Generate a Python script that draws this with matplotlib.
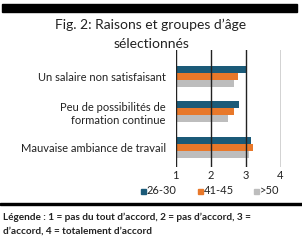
import matplotlib.pyplot as plt
from matplotlib.patches import Rectangle
import numpy as np

plt.rcParams['font.family'] = ['Lato', 'DejaVu Sans']

categories = ['Un salaire non satisfaisant',
              'Peu de possibilités de\nformation continue',
              'Mauvaise ambiance de travail']
groups = ['26-30', '41-45', '>50']
v_26_30 = [3.04, 2.80, 3.17]
v_41_45 = [2.78, 2.67, 3.20]
v_50 = [2.67, 2.50, 3.09]
ticks = [1, 2, 3, 4]

colors = ['#1b5a78', '#e8782a', '#bdbdbd']
txt = '#222222'

W, H = 302, 241
fig = plt.figure(figsize=(W / 100, H / 100), dpi=100)

# plot area in pixel coords
left, right, top, bottom = 175.5, 280.5, 50, 167
ax = fig.add_axes([left / W, 1 - bottom / H, (right - left) / W, (bottom - top) / H])

y = np.arange(len(categories))
h = 0.197
for i, (vals, c) in enumerate(zip([v_26_30, v_41_45, v_50], colors)):
    ax.barh(y + (i - 1) * h, np.array(vals) - 1, left=1, height=h, color=c,
            label=groups[i], zorder=2)

ax.set_xlim(1, 4)
ax.set_ylim(2.55, -0.746)
for t in ticks:
    ax.axvline(t, color=txt, lw=1, zorder=3)
for s in ax.spines.values():
    s.set_visible(False)

ax.set_xticks(ticks)
ax.set_xticklabels([str(t) for t in ticks], fontsize=8, color=txt)
ax.set_yticks(y)
ax.set_yticklabels(categories, fontsize=8, color=txt, multialignment='right')
ax.tick_params(length=0)
ax.tick_params(axis='x', pad=2)
ax.tick_params(axis='y', pad=7)

# top black band
fig.patches.append(Rectangle((2 / W, 1 - 12 / H), 295 / W, 8 / H,
                             transform=fig.transFigure, color='black'))
# separator line
fig.patches.append(Rectangle((0, 1 - 205 / H), 1, 2.2 / H,
                             transform=fig.transFigure, color='black'))

fig.text(151 / W, 1 - 25 / H, 'Fig. 2: Raisons et groupes d\u2019âge',
         ha='center', va='center', fontsize=10, color=txt)
fig.text(151 / W, 1 - 44 / H, 'sélectionnés',
         ha='center', va='center', fontsize=10, color=txt)

# legend, drawn by hand so the swatches sit where they do in the original
leg_x = [141, 198, 254]
for gx, g, c in zip(leg_x, groups, colors):
    fig.patches.append(Rectangle((gx / W, 1 - 193.5 / H), 5 / W, 5 / H,
                                 transform=fig.transFigure, color=c))
    fig.text((gx + 6) / W, 1 - 191 / H, g, ha='left', va='center',
             fontsize=8, color=txt)

fig.text(3 / W, 1 - 217 / H,
         'Légende : 1 = pas du tout d\u2019accord, 2 = pas d\u2019accord, 3 =',
         ha='left', va='center', fontsize=7.2, weight='bold', color=txt)
fig.text(3 / W, 1 - 231 / H, 'd\u2019accord, 4 = totalement d\u2019accord',
         ha='left', va='center', fontsize=7.2, weight='bold', color=txt)

fig.savefig('out.png', dpi=100)
